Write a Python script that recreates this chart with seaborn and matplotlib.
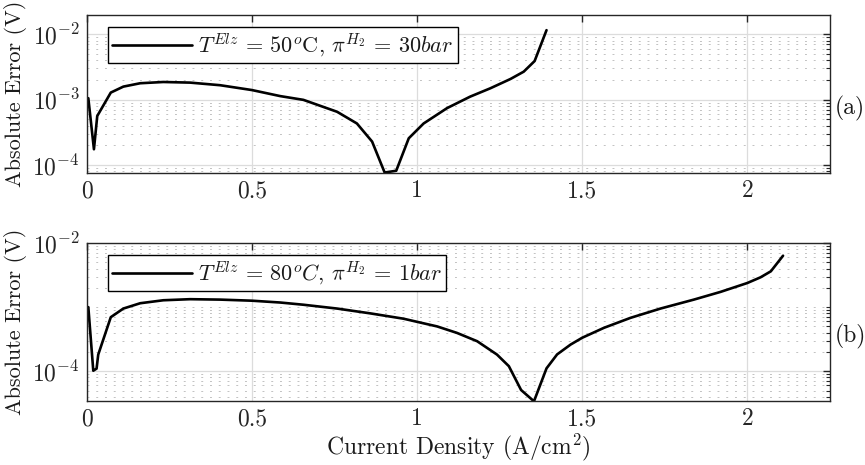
import matplotlib
matplotlib.use("Agg")
import matplotlib.pyplot as plt
import matplotlib.ticker as mticker
import seaborn as sns
import pandas as pd

# ---- data ----
top_x = [0.005, 0.022, 0.032, 0.073, 0.111, 0.162, 0.232, 0.313, 0.404, 0.500,
         0.586, 0.656, 0.758, 0.818, 0.864, 0.902, 0.937, 0.975, 1.020, 1.091,
         1.161, 1.222, 1.283, 1.323, 1.356, 1.392]
top_y = [1.05e-3, 1.73e-4, 5.6e-4, 1.28e-3, 1.58e-3, 1.78e-3, 1.86e-3, 1.82e-3,
         1.66e-3, 1.40e-3, 1.13e-3, 9.9e-4, 6.5e-4, 4.3e-4, 2.27e-4, 7.6e-5,
         8.1e-5, 2.55e-4, 4.3e-4, 7.4e-4, 1.11e-3, 1.49e-3, 2.07e-3, 2.68e-3,
         3.9e-3, 1.16e-2]

bot_x = [0.005, 0.020, 0.030, 0.035, 0.073, 0.111, 0.162, 0.232, 0.313, 0.404,
         0.500, 0.586, 0.656, 0.758, 0.858, 0.959, 1.061, 1.121, 1.182, 1.242,
         1.278, 1.315, 1.354, 1.392, 1.424, 1.465, 1.500, 1.566, 1.646, 1.737,
         1.838, 1.919, 2.000, 2.040, 2.071, 2.108]
bot_y = [1.0e-3, 1.02e-4, 1.1e-4, 1.82e-4, 6.97e-4, 9.5e-4, 1.15e-3, 1.28e-3,
         1.33e-3, 1.31e-3, 1.26e-3, 1.18e-3, 1.09e-3, 9.5e-4, 8.0e-4, 6.6e-4,
         5.0e-4, 3.96e-4, 2.94e-4, 1.82e-4, 1.2e-4, 5.1e-5, 3.4e-5, 1.11e-4,
         1.83e-4, 2.61e-4, 3.33e-4, 4.76e-4, 6.8e-4, 9.5e-4, 1.31e-3, 1.73e-3,
         2.38e-3, 2.92e-3, 3.62e-3, 6.34e-3]

top_label = r"$T^{Elz}\,=\,50^o\mathrm{C}$, $\pi^{H_2}\,=\,30bar$"
bot_label = r"$T^{Elz}\,=\,80^oC$, $\pi^{H_2}\,=\,1bar$"
panel_tags = ["(a)", "(b)"]
x_ticks = [0, 0.5, 1, 1.5, 2]
x_ticklabels = ["0", "0.5", "1", "1.5", "2"]

sns.set_theme(style="white")
plt.rcParams.update({
    "font.family": ["cmr10", "DejaVu Serif"],
    "mathtext.fontset": "cm",
    "axes.formatter.use_mathtext": True,
    "font.size": 17,
    "text.color": "#1a1a1a",
    "axes.labelcolor": "#1a1a1a",
    "xtick.color": "#262626",
    "ytick.color": "#262626",
})

FS = 17
fig = plt.figure(figsize=(8.65, 4.65), dpi=100)
ax1 = fig.add_axes([0.1002, 0.6273, 0.8593, 0.3404])
ax2 = fig.add_axes([0.1002, 0.1370, 0.8593, 0.3404])

df_top = pd.DataFrame({"x": top_x, "y": top_y})
df_bot = pd.DataFrame({"x": bot_x, "y": bot_y})

specs = [
    (ax1, df_top, top_label, (7.4e-5, 1.98e-2), [1e-4, 1e-3, 1e-2]),
    (ax2, df_bot, bot_label, (3.4e-5, 1e-2), [1e-4, 1e-2]),
]

for i, (ax, df, lab, ylim, majors) in enumerate(specs):
    sns.lineplot(data=df, x="x", y="y", ax=ax, color="black", linewidth=1.9,
                 sort=False, estimator=None, label=lab)
    ax.set_yscale("log")
    ax.set_xlim(0, 2.25)
    ax.set_ylim(*ylim)
    ax.set_xticks(x_ticks)
    ax.set_xticklabels(x_ticklabels)
    ax.yaxis.set_major_locator(mticker.FixedLocator(majors))
    ax.yaxis.set_major_formatter(mticker.LogFormatterSciNotation())
    minors = []
    for dec in [1e-5, 1e-4, 1e-3, 1e-2]:
        for k in range(1, 10):
            v = k * dec
            if any(abs(v - m) / m < 1e-6 for m in majors):
                continue
            minors.append(v)
    ax.yaxis.set_minor_locator(mticker.FixedLocator(minors))
    ax.yaxis.set_minor_formatter(mticker.NullFormatter())
    ax.xaxis.set_minor_locator(mticker.NullLocator())
    ax.tick_params(which="both", direction="in", top=True, right=True,
                   labelsize=FS, pad=5)
    ax.tick_params(which="major", length=5, width=1.0)
    ax.tick_params(which="minor", length=3, width=0.8)
    ax.grid(which="major", color="#dcdcdc", linewidth=0.9, linestyle="-")
    ax.grid(which="minor", axis="y", color="#c2c2c2", linewidth=0.7,
            linestyle=(0, (2, 7)))
    ax.set_axisbelow(True)
    for s in ax.spines.values():
        s.set_color("#262626")
        s.set_linewidth(1.0)
    ax.set_ylabel("Absolute Error (V)", fontsize=16, labelpad=4)
    ax.set_xlabel("")
    leg = ax.legend(loc="upper left", bbox_to_anchor=(0.0287, 0.924),
                    borderaxespad=0, frameon=True, fancybox=False,
                    fontsize=16, handlelength=3.6, handletextpad=0.25,
                    borderpad=0.2)
    leg.get_frame().set_edgecolor("black")
    leg.get_frame().set_linewidth(1.0)
    leg.get_frame().set_alpha(1)
    ax.text(1.006, 0.41, panel_tags[i], transform=ax.transAxes,
            ha="left", va="center", fontsize=FS)

ax2.set_xlabel(r"Current Density (A/cm$^2$)", fontsize=FS, labelpad=1)

fig.savefig("out.png", dpi=100)
